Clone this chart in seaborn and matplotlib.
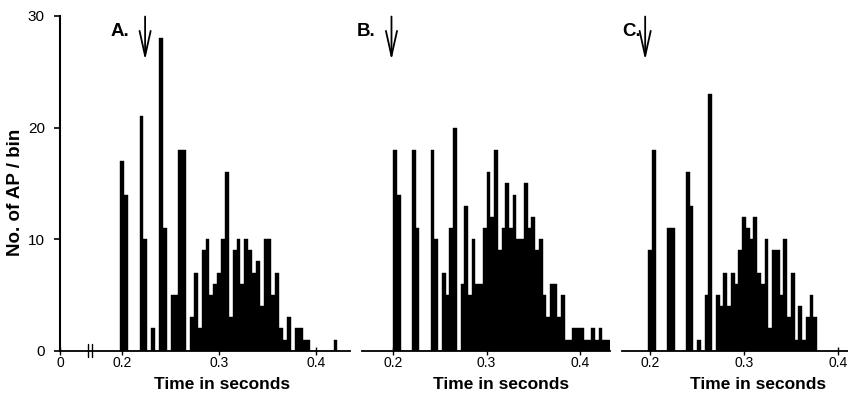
import numpy as np
import pandas as pd
import matplotlib.pyplot as plt
import seaborn as sns

# histogram bins: 4 ms wide, counts
bin_width = 0.004
bin_starts = [0.198, 0.200, 0.198]

counts_a = [17, 14, 0, 0, 0, 21, 10, 0, 2, 0, 28, 11, 0, 5, 5, 18, 18, 0,
            3, 7, 2, 9, 10, 5, 6, 7, 10, 16, 3, 9, 10, 6, 10, 9, 7, 8, 4,
            10, 10, 5, 7, 2, 1, 3, 0, 2, 2, 1, 1, 0, 0, 0, 0, 0, 0, 1]
counts_b = [18, 14, 0, 0, 0, 18, 11, 0, 0, 0, 18, 10, 0, 7, 5, 11, 20, 0,
            6, 13, 5, 10, 6, 6, 11, 16, 12, 18, 9, 11, 15, 11, 14, 10, 10,
            15, 11, 12, 9, 10, 5, 3, 6, 6, 3, 5, 1, 1, 2, 2, 2, 1, 1, 2, 1,
            2, 1, 1]
counts_c = [9, 18, 0, 0, 0, 11, 11, 0, 0, 0, 16, 13, 0, 1, 0, 5, 23, 0,
            5, 4, 7, 4, 7, 6, 9, 12, 11, 10, 12, 7, 6, 10, 2, 9, 9, 5, 10,
            3, 7, 1, 4, 1, 3, 5, 3]

panel_labels = ["A.", "B.", "C."]
label_times = [0.1876, 0.161, 0.170]
arrow_times = [0.2237, 0.198, 0.1947]
x_limits = [(0.136, 0.435), (0.1664, 0.4328), (0.170, 0.411)]
xtick_vals = [0.2, 0.3, 0.4]
xtick_labels = ["0.2", "0.3", "0.4"]
ytick_vals = [0, 10, 20, 30]
ytick_labels = ["0", "10", "20", "30"]

sns.set_style("ticks")
plt.rcParams["font.family"] = ["Liberation Sans", "DejaVu Sans"]
plt.rcParams.update({"text.color": "black", "axes.labelcolor": "black",
                     "xtick.color": "black", "ytick.color": "black",
                     "axes.edgecolor": "black"})

fig = plt.figure(figsize=(8.48, 3.98), dpi=100)
# axes boxes in figure fractions (left, width)
boxes = [(0.0708, 0.342), (0.4269, 0.293), (0.7335, 0.2665)]
axs = [fig.add_axes([l, 0.1188, w, 0.841]) for l, w in boxes]

all_counts = [counts_a, counts_b, counts_c]
for i, ax in enumerate(axs):
    counts = np.array(all_counts[i], dtype=float)
    n = len(counts)
    lo = bin_starts[i]
    hi = lo + bin_width * n
    df = pd.DataFrame({"t": lo + bin_width * (np.arange(n) + 0.5), "n": counts})
    sns.histplot(data=df, x="t", weights="n", binwidth=bin_width,
                 binrange=(lo, hi), ax=ax, color="black", alpha=1,
                 edgecolor="black", linewidth=0.3)

    ax.set_xlim(*x_limits[i])
    ax.set_ylim(0, 30)
    sns.despine(ax=ax)
    ax.spines["bottom"].set_linewidth(1.3)
    ax.tick_params(axis="x", direction="inout", length=6, width=1, pad=1,
                   labelsize=10)
    if i == 0:
        ax.set_xticks([x_limits[0][0]] + xtick_vals)
        ax.set_xticklabels(["0"] + xtick_labels)
        ax.set_yticks(ytick_vals)
        ax.set_yticklabels(ytick_labels, size=11)
        ax.spines["left"].set_linewidth(1.5)
        ax.tick_params(axis="y", direction="out", length=4, width=1.2, pad=7)
        ax.set_ylabel("No. of AP / bin", fontsize=13.5, fontweight="bold")
        ax.yaxis.set_label_coords(-0.125, 0.474)
        # axis break mark
        for xb in [0.1650, 0.1685]:
            ax.plot([xb, xb], [-0.6, 0.6], color="black", lw=1, clip_on=False)
    else:
        ax.set_xticks(xtick_vals)
        ax.set_xticklabels(xtick_labels)
        ax.spines["left"].set_visible(False)
        ax.set_yticks([])
        ax.set_ylabel("")

    ax.set_xlabel("Time in seconds", fontsize=12.5, fontweight="bold")
    ax.xaxis.set_label_coords(0.56 if i < 2 else 0.6, -0.08)

    ax.text(label_times[i], 28.6, panel_labels[i], fontsize=13.5,
            fontweight="bold", va="center", ha="left", clip_on=False)
    ax.annotate("", xy=(arrow_times[i], 25.8), xytext=(arrow_times[i], 30.2),
                arrowprops=dict(arrowstyle="->,head_length=1.8,head_width=0.4",
                                lw=1.3, color="black"),
                annotation_clip=False)

plt.savefig("out.png", dpi=100)
